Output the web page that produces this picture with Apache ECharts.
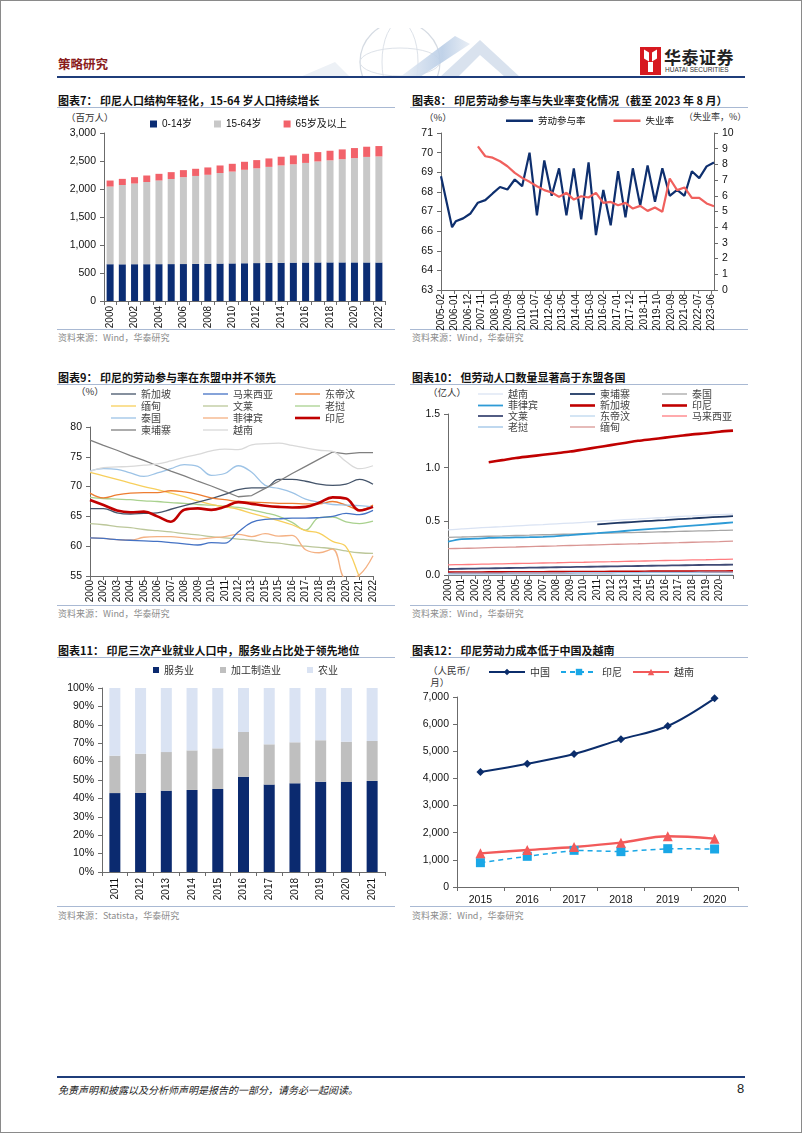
<!DOCTYPE html>
<html><head><meta charset="utf-8">
<script src="https://cdn.jsdelivr.net/npm/echarts@6/dist/echarts.min.js"></script>
<style>
html,body{margin:0;padding:0;background:#fff;}
#page{position:relative;width:802px;height:1133px;overflow:hidden;font-family:"Noto Sans CJK SC",sans-serif;background:#fff;}
.frame{position:absolute;left:0;top:0;width:800px;height:1131px;border:1px solid #8a8a8a;}
.layer{position:absolute;left:0;top:0;width:802px;height:1133px;}
.t{position:absolute;white-space:nowrap;line-height:14px;}
.title{font-size:11px;font-weight:bold;color:#111;}
.src{font-size:9px;color:#8c8c8c;}
.unit{font-size:9.5px;color:#333;}
.hl{position:absolute;height:1px;background:#a9b9d3;}
.bl{position:absolute;height:2px;background:#1f3d7a;}
</style></head>
<body><div id="page">
<div class="frame"></div>
<svg class="layer" width="802" height="1133" style="position:absolute;left:0;top:0">
  <defs><clipPath id="hc"><rect x="250" y="28" width="320" height="48"/></clipPath>
  <linearGradient id="gz" x1="0" y1="0" x2="1" y2="0"><stop offset="0" stop-color="#e9eef5"/><stop offset="0.6" stop-color="#b9cde6"/><stop offset="1" stop-color="#e6ecf4"/></linearGradient></defs>
  <g clip-path="url(#hc)">
    <circle cx="400" cy="62" r="40" fill="none" stroke="#d5dbe3" stroke-width="1.2"/>
    <ellipse cx="400" cy="62" rx="18" ry="40" fill="none" stroke="#dde2e9" stroke-width="1"/>
    <ellipse cx="400" cy="62" rx="40" ry="14" fill="none" stroke="#dde2e9" stroke-width="1"/>
    <polygon points="300,77 335,62 350,77" fill="#edf1f6"/>
    <polygon points="400,77 455,36 470,44 420,77" fill="url(#gz)" opacity="0.9"/>
    <polygon points="440,77 480,40 520,77 505,77 480,55 458,77" fill="#cfdbea" opacity="0.8"/>
  </g>
</svg>
<div class="t" style="left:58px;top:57px;font-size:12.5px;font-weight:bold;color:#8a1c1c;">策略研究</div>
<div style="position:absolute;left:640px;top:47px;width:21px;height:28px;background:#d71920;"></div>
<div style="position:absolute;left:644px;top:51px;width:5px;height:9px;background:#fff;transform:skewY(30deg);"></div>
<div style="position:absolute;left:652px;top:51px;width:5px;height:9px;background:#fff;transform:skewY(-30deg);"></div>
<div style="position:absolute;left:648px;top:62px;width:5px;height:10px;background:#fff;"></div>
<div class="t" style="left:664px;top:47px;font-size:17px;font-weight:bold;color:#222;line-height:20px;letter-spacing:0.5px;">华泰证券</div>
<div class="t" style="left:665px;top:65px;font-size:6.5px;color:#333;font-family:Arial,'Liberation Sans',sans-serif;line-height:9px;">HUATAI SECURITIES</div>
<div class="bl" style="left:57px;top:76px;width:688px;"></div>

<div class="t title" style="left:58px;top:93px;">图表7：&nbsp;印尼人口结构年轻化，15-64 岁人口持续增长</div>
<div class="t title" style="left:412px;top:93px;">图表8：&nbsp;印尼劳动参与率与失业率变化情况（截至 2023 年 8 月）</div>
<div class="hl" style="left:57px;top:107px;width:338px;"></div>
<div class="hl" style="left:410px;top:107px;width:338px;"></div>
<div class="t unit" style="left:66px;top:110px;">（百万人）</div>
<div class="t unit" style="left:424px;top:110px;">（%）</div>
<div class="t unit" style="left:684px;top:110px;font-size:9px;">（失业率，%）</div>
<div class="hl" style="left:57px;top:329px;width:338px;"></div>
<div class="hl" style="left:410px;top:329px;width:338px;"></div>
<div class="t src" style="left:58px;top:331px;">资料来源：Wind，华泰研究</div>
<div class="t src" style="left:412px;top:331px;">资料来源：Wind，华泰研究</div>

<div class="t title" style="left:58px;top:370px;">图表9：&nbsp;印尼的劳动参与率在东盟中并不领先</div>
<div class="t title" style="left:412px;top:370px;">图表10：&nbsp;但劳动人口数量显著高于东盟各国</div>
<div class="hl" style="left:57px;top:384px;width:338px;"></div>
<div class="hl" style="left:410px;top:384px;width:338px;"></div>
<div class="t unit" style="left:76px;top:384px;">（%）</div>
<div class="t unit" style="left:428px;top:385px;">（亿人）</div>
<div class="hl" style="left:57px;top:605px;width:338px;"></div>
<div class="hl" style="left:410px;top:605px;width:338px;"></div>
<div class="t src" style="left:58px;top:607px;">资料来源：Wind，华泰研究</div>
<div class="t src" style="left:412px;top:607px;">资料来源：Wind，华泰研究</div>

<div class="t title" style="left:58px;top:643px;">图表11：&nbsp;印尼三次产业就业人口中，服务业占比处于领先地位</div>
<div class="t title" style="left:412px;top:643px;">图表12：&nbsp;印尼劳动力成本低于中国及越南</div>
<div class="hl" style="left:57px;top:657px;width:338px;"></div>
<div class="hl" style="left:410px;top:657px;width:338px;"></div>
<div class="t unit" style="left:428px;top:663px;">（人民币/</div>
<div class="t unit" style="left:428px;top:675px;">&nbsp;月）</div>
<div class="hl" style="left:57px;top:906px;width:338px;"></div>
<div class="hl" style="left:410px;top:906px;width:338px;"></div>
<div class="t src" style="left:58px;top:909px;">资料来源：Statista，华泰研究</div>
<div class="t src" style="left:412px;top:909px;">资料来源：Wind，华泰研究</div>

<div class="bl" style="left:57px;top:1076px;width:688px;"></div>
<div class="t" style="left:58px;top:1083px;font-size:10px;font-style:italic;color:#222;">免责声明和披露以及分析师声明是报告的一部分，请务必一起阅读。</div>
<div class="t" style="left:737px;top:1082px;font-size:13px;color:#222;font-family:Arial,'Liberation Sans',sans-serif;">8</div>

<div id="c7" class="layer"></div>
<div id="c8" class="layer"></div>
<div id="c9" class="layer"></div>
<div id="c10" class="layer"></div>
<div id="c11" class="layer"></div>
<div id="c12" class="layer"></div>
</div>
<script>
// ---------- Chart 7 data ----------
const years7 = ['2000','2001','2002','2003','2004','2005','2006','2007','2008','2009','2010','2011','2012','2013','2014','2015','2016','2017','2018','2019','2020','2021','2022'];
const age0to14 = [657,655,657,657,658,659,660,662,665,668,671,674,677,680,683,685,687,688,689,689,689,688,687];
const age15to64 = [1387,1416,1441,1468,1494,1520,1552,1571,1589,1617,1640,1669,1692,1715,1738,1756,1779,1804,1823,1843,1863,1885,1895];
const age65plus = [107,110,113,116,119,122,125,128,131,135,139,143,147,151,155,159,163,167,171,175,179,182,185];

// ---------- Chart 8 data ----------
const lfprDates = ['2005-02','2005-11','2006-02','2006-08','2007-02','2007-08','2008-02','2008-08','2009-02','2009-08','2010-02','2010-08','2011-02','2011-08','2012-02','2012-08','2013-02','2013-08','2014-02','2014-08','2015-02','2015-08','2016-02','2016-08','2017-02','2017-08','2018-02','2018-08','2019-02','2019-08','2020-02','2020-08','2021-02','2021-08','2022-02','2022-08','2023-02','2023-08'];
const lfprValues = [68.8,66.2,66.5,66.65,66.9,67.45,67.58,67.92,68.25,68.12,68.63,68.29,70.0,66.8,69.6,67.8,69.2,66.8,69.2,66.6,69.5,65.8,68.1,66.3,69.05,66.7,69.2,67.3,69.35,67.5,69.2,67.8,68.1,67.8,69.05,68.7,69.3,69.5];
const unempDates = ['2007-08','2008-02','2008-08','2009-02','2009-08','2010-02','2010-08','2011-02','2011-08','2012-02','2012-08','2013-02','2013-08','2014-02','2014-08','2015-02','2015-08','2016-02','2016-08','2017-02','2017-08','2018-02','2018-08','2019-02','2019-08','2020-02','2020-08','2021-02','2021-08','2022-02','2022-08','2023-02','2023-08'];
const unempValues = [9.15,8.52,8.43,8.2,7.88,7.46,7.14,6.89,6.61,6.36,6.21,5.93,6.19,5.76,5.97,5.89,6.19,5.55,5.61,5.4,5.55,5.19,5.36,5.04,5.25,4.98,7.1,6.36,6.53,5.87,5.87,5.51,5.34];

// ---------- Chart 9 data ----------
const labels9 = ['2000','2002','2003','2004','2005','2006','2007','2008','2009','2010','2011','2012','2013','2015','2015','2016','2017','2018','2019','2020','2021','2022'];
const names9 = ['新加坡','马来西亚','东帝汶','缅甸','文莱','老挝','泰国','菲律宾','印尼','柬埔寨','越南'];
const colors9 = ['#44546a','#4472c4','#ed7d31','#f7cf5c','#bcc79a','#a9d18e','#9dc3e6','#f4b183','#c00000','#7f7f7f','#d9d9d9'];
const sg9 = [66.3,66.3,65.6,65.4,65.5,65.6,66.2,66.8,67.4,68.0,68.7,69.5,69.8,69.8,71.2,71.2,70.9,70.4,70.2,70.4,71.2,70.4];
const my9 = [61.4,61.3,61.1,61.0,60.9,60.8,60.6,60.4,60.2,60.6,60.5,62.4,64.0,64.5,64.6,64.7,64.7,64.8,65.0,65.5,65.3,66.0];
const tl9 = [68.9,68.1,68.6,68.9,69.0,69.0,69.3,69.1,68.7,68.1,67.8,67.5,67.4,67.3,67.2,67.2,67.1,67.1,67.5,66.9,66.1,66.9];
const mm9 = [72.4,71.8,71.2,70.6,70.0,69.5,68.9,68.3,67.6,67.0,66.6,66.2,65.5,64.9,64.3,63.6,62.6,62.2,60.8,59.9,54.8,50.0];
const bn9 = [63.8,63.6,63.3,63.1,62.8,62.6,62.4,62.1,61.9,61.6,61.4,61.2,61.0,60.7,60.5,60.2,60.0,59.8,59.6,59.2,58.9,58.8];
const la9 = [68.2,68.0,67.9,67.8,67.6,67.5,67.3,67.2,67.0,66.9,66.7,66.5,66.1,65.6,65.0,64.0,62.7,64.8,64.9,64.1,63.8,64.2];
const th9 = [72.6,73.0,72.9,72.3,71.7,72.3,73.0,73.7,73.4,71.9,72.2,73.5,72.4,70.2,69.7,69.0,67.9,67.4,67.0,66.9,66.8,66.6];
const ph9 = [61.4,61.3,61.1,61.0,61.5,61.6,61.6,61.4,61.2,61.4,61.6,62.0,61.6,62.1,61.7,61.8,59.4,58.9,59.5,54.5,55.2,58.4];
const id9 = [67.75,66.9,66.0,65.7,65.8,65.0,64.1,66.1,66.35,66.1,66.6,67.4,67.1,66.8,66.6,66.5,66.6,67.3,68.2,68.0,66.0,66.6];
const kh9 = [77.8,76.9,76.1,75.2,74.4,73.5,72.6,71.8,70.9,70.1,69.2,68.3,68.5,69.7,70.9,72.2,73.4,74.6,75.8,75.5,75.7,75.7];
const vn9 = [72.5,73.2,73.3,73.4,73.6,73.8,74.3,74.9,75.4,76.0,76.3,76.2,77.0,77.2,77.3,76.9,76.5,76.1,75.9,74.2,73.0,73.5];
const values9 = [sg9,my9,tl9,mm9,bn9,la9,th9,ph9,id9,kh9,vn9];

// ---------- Chart 10 data ----------
const years10 = ['2000','2001','2002','2003','2004','2005','2006','2007','2008','2009','2010','2011','2012','2013','2014','2015','2016','2017','2018','2019','2020','2021'];
const tickLabels10 = ['2000','2001','2002','2003','2004','2005','2006','2007','2008','2009','2010','2011','2012','2013','2014','2015','2016','2017','2018','2019','2020'];
const names10 = ['越南','柬埔寨','泰国','菲律宾','新加坡','印尼','文莱','东帝汶','马来西亚','老挝','缅甸'];
const colors10 = ['#dae3f3','#1f3864','#a6a6a6','#2e9bd6','#c00000','#c00000','#3f4a75','#bdd7ee','#ff7c80','#9dc3e6','#d99694'];
const vn10 = [0.42,0.43,0.437,0.444,0.45,0.457,0.464,0.47,0.477,0.484,0.49,0.50,0.507,0.515,0.522,0.53,0.537,0.545,0.55,0.557,0.563,0.568];
const kh10 = [null,null,null,null,null,null,null,null,null,null,null,0.472,0.481,0.489,0.497,0.505,0.512,0.52,0.527,0.535,0.542,0.548];
const th10 = [0.351,0.354,0.358,0.361,0.364,0.368,0.371,0.375,0.378,0.381,0.385,0.388,0.391,0.394,0.397,0.40,0.403,0.406,0.409,0.412,0.415,0.419];
const ph10 = [0.31,0.335,0.338,0.345,0.348,0.35,0.352,0.356,0.362,0.372,0.382,0.39,0.40,0.41,0.42,0.43,0.44,0.45,0.46,0.47,0.48,0.49];
const sg10 = [0.022,0.023,0.023,0.024,0.024,0.025,0.026,0.026,0.027,0.027,0.028,0.028,0.029,0.030,0.030,0.031,0.031,0.032,0.032,0.033,0.033,0.034];
const id10 = [null,null,null,1.05,1.07,1.09,1.105,1.12,1.135,1.15,1.17,1.19,1.21,1.23,1.25,1.265,1.28,1.295,1.31,1.32,1.335,1.345];
const bn10 = [0.056,0.058,0.06,0.062,0.064,0.066,0.068,0.07,0.072,0.074,0.076,0.078,0.08,0.082,0.084,0.086,0.088,0.09,0.092,0.094,0.095,0.096];
const tl10 = [0.004,0.004,0.004,0.004,0.004,0.005,0.005,0.005,0.005,0.005,0.005,0.005,0.005,0.006,0.006,0.006,0.006,0.006,0.006,0.006,0.006,0.006];
const my10 = [0.095,0.097,0.099,0.102,0.104,0.107,0.109,0.112,0.114,0.117,0.119,0.122,0.124,0.127,0.129,0.132,0.135,0.137,0.14,0.142,0.145,0.148];
const la10 = [0.016,0.017,0.017,0.018,0.018,0.019,0.019,0.02,0.02,0.021,0.021,0.022,0.022,0.023,0.023,0.024,0.024,0.025,0.025,0.026,0.026,0.027];
const mm10 = [0.245,0.248,0.251,0.255,0.258,0.261,0.265,0.268,0.271,0.275,0.278,0.281,0.285,0.288,0.291,0.295,0.298,0.301,0.305,0.308,0.311,0.315];
const values10 = [vn10,kh10,th10,ph10,sg10,id10,bn10,tl10,my10,la10,mm10];

// ---------- Chart 11 data ----------
const years11 = ['2011','2012','2013','2014','2015','2016','2017','2018','2019','2020','2021'];
const services11 = [42.9,43.0,44.2,44.6,45.1,51.8,47.5,48.2,49.1,48.9,49.5];
const manuf11 = [20.3,21.3,21.0,21.5,22.1,24.3,21.9,22.3,22.5,21.9,21.7];
const agri11 = [36.8,35.7,34.8,33.9,32.8,23.9,30.6,29.5,28.4,29.2,28.8];

// ---------- Chart 12 data ----------
const years12 = ['2015','2016','2017','2018','2019','2020'];
const china12 = [4237,4544,4900,5440,5932,6951];
const indo12 = [896,1130,1351,1302,1412,1400];
const viet12 = [1240,1363,1474,1633,1867,1781];

// ---------- shared styles ----------
const NUM = 'Arial, "Liberation Sans", "Noto Sans CJK SC", sans-serif';
const CJK = '"Noto Sans CJK SC", sans-serif';
const AX = '#6b6b6b';
const axLine = {show:true, lineStyle:{color:AX, width:1}};
const axTick = {show:true, length:4, lineStyle:{color:AX}};
const thousands = v => v.toLocaleString('en-US');
function mk(id){ return echarts.init(document.getElementById(id), null, {renderer:'canvas', width:802, height:1133}); }

// ---------- Chart 7 ----------
mk('c7').setOption({
  animation:false,
  grid:{left:104, top:133, width:281, height:168},
  legend:{left:145, top:114, icon:'rect', itemWidth:7, itemHeight:7, itemGap:22, selectedMode:false,
    textStyle:{fontSize:10, fontFamily:NUM, color:'#111'}},
  xAxis:{type:'category', data:years7, axisLine:axLine, axisTick:{show:true, length:4, interval:0, lineStyle:{color:AX}},
    axisLabel:{rotate:90, interval:1, fontSize:10, fontFamily:NUM, color:'#111', margin:5}},
  yAxis:{type:'value', min:0, max:3000, interval:500, splitLine:{show:false}, axisLine:axLine, axisTick:axTick,
    axisLabel:{fontSize:10.5, fontFamily:NUM, color:'#111', formatter:thousands}},
  series:[
    {name:'0-14岁', type:'bar', stack:'p', barWidth:7, data:age0to14, itemStyle:{color:'#0b2d74'}},
    {name:'15-64岁', type:'bar', stack:'p', barWidth:7, data:age15to64, itemStyle:{color:'#c8c8c8'}},
    {name:'65岁及以上', type:'bar', stack:'p', barWidth:7, data:age65plus, itemStyle:{color:'#f2626a'}}
  ]
});

// ---------- Chart 8 ----------
const months8 = [];
for (let y = 2005; y <= 2023; y++) for (let m = 1; m <= 12; m++) {
  const s = y + '-' + String(m).padStart(2,'0');
  if (s >= '2005-02' && s <= '2023-08') months8.push(s);
}
mk('c8').setOption({
  animation:false,
  grid:{left:441, top:133, width:273, height:157},
  legend:{left:501, top:111, icon:'rect', itemWidth:27, itemHeight:2.5, itemGap:28, selectedMode:false,
    textStyle:{fontSize:9.5, fontFamily:CJK, color:'#111'}},
  xAxis:{type:'category', data:months8, boundaryGap:false, axisLine:axLine,
    axisTick:{show:true, length:4, interval:10, lineStyle:{color:AX}},
    axisLabel:{rotate:90, interval:10, fontSize:10, fontFamily:NUM, color:'#111', margin:4}},
  yAxis:[
    {type:'value', min:63, max:71, interval:1, splitLine:{show:false}, axisLine:axLine, axisTick:axTick,
      axisLabel:{fontSize:10.5, fontFamily:NUM, color:'#111'}},
    {type:'value', min:0, max:10, interval:1, position:'right', splitLine:{show:false}, axisLine:axLine, axisTick:axTick,
      axisLabel:{fontSize:10.5, fontFamily:NUM, color:'#111'}}
  ],
  series:[
    {name:'劳动参与率', type:'line', yAxisIndex:0, symbol:'none', data:lfprDates.map((d,i)=>[d, lfprValues[i]]),
      lineStyle:{color:'#0e2f6e', width:2.2}, itemStyle:{color:'#0e2f6e'}},
    {name:'失业率', type:'line', yAxisIndex:1, symbol:'none', data:unempDates.map((d,i)=>[d, unempValues[i]]),
      lineStyle:{color:'#f0605d', width:2.2}, itemStyle:{color:'#f0605d'}}
  ]
});

// ---------- cell legends helper ----------
function cellLegends(names, cols, rows, thick){
  return names.map((n,i)=>({
    data:[n], left:cols[i%3], top:rows[Math.floor(i/3)]-7, icon:'rect', itemWidth:25,
    itemHeight: thick(n), selectedMode:false,
    textStyle:{fontSize:10, fontFamily:CJK, color:'#444'}
  }));
}

// ---------- Chart 9 ----------
const legCols9 = [106, 198, 290], legRows9 = [391, 403, 415, 427];
const order9 = [4,5,3,7,1,0,2,6,9,10,8];
mk('c9').setOption({
  animation:false,
  grid:{left:90, top:427, width:283, height:149},
  legend:cellLegends(names9, legCols9, legRows9, n => n==='印尼' ? 2.6 : 1.3),
  xAxis:{type:'category', data:labels9, boundaryGap:false, axisLine:axLine,
    axisTick:{show:true, length:4, interval:0, lineStyle:{color:AX}},
    axisLabel:{rotate:90, interval:0, fontSize:10, fontFamily:NUM, color:'#111', margin:4}},
  yAxis:{type:'value', min:55, max:80, interval:5, splitLine:{show:false}, axisLine:axLine, axisTick:axTick,
    axisLabel:{fontSize:10.5, fontFamily:NUM, color:'#111'}},
  series:names9.map((n,i)=>({
    name:n, type:'line', symbol:'none', data:values9[i], z: 2 + order9.indexOf(i),
    smooth: n === '柬埔寨' ? false : 0.4, clip:true,
    lineStyle:{color:colors9[i], width: n === '印尼' ? 2.6 : 1.3}, itemStyle:{color:colors9[i]}
  }))
});

// ---------- Chart 10 ----------
const legCols10 = [473, 565, 657], legRows10 = [391, 402.5, 413, 424];
const w10 = n => (n==='印尼'||n==='新加坡') ? 2.6 : ((n==='菲律宾'||n==='柬埔寨'||n==='文莱') ? 1.8 : 1.3);
mk('c10').setOption({
  animation:false,
  grid:{left:448, top:414, width:285, height:161},
  legend:cellLegends(names10, legCols10, legRows10, w10),
  xAxis:{type:'category', data:years10, boundaryGap:false, axisLine:axLine,
    axisTick:{show:true, length:4, interval:0, lineStyle:{color:AX}},
    axisLabel:{rotate:90, interval:0, fontSize:10, fontFamily:NUM, color:'#111', margin:4,
      formatter:(v,idx)=> tickLabels10[idx] || ''}},
  yAxis:{type:'value', min:0, max:1.5, interval:0.5, splitLine:{show:false}, axisLine:axLine, axisTick:axTick,
    axisLabel:{fontSize:10.5, fontFamily:NUM, color:'#111', formatter:v=>v.toFixed(1)}},
  series:names10.map((n,i)=>({
    name:n, type:'line', symbol:'none', data:values10[i], smooth:0.3, z: n==='印尼'?10:3,
    lineStyle:{color:colors10[i], width:w10(n)}, itemStyle:{color:colors10[i]}
  }))
});

// ---------- Chart 11 ----------
mk('c11').setOption({
  animation:false,
  grid:{left:102, top:688, width:283, height:184},
  legend:{left:148, top:660, icon:'rect', itemWidth:6, itemHeight:6, itemGap:26, selectedMode:false,
    textStyle:{fontSize:10, fontFamily:CJK, color:'#333'}},
  xAxis:{type:'category', data:years11, axisLine:axLine, axisTick:{show:true, length:4, lineStyle:{color:AX}},
    axisLabel:{rotate:90, interval:0, fontSize:10, fontFamily:NUM, color:'#111', margin:6}},
  yAxis:{type:'value', min:0, max:100, interval:10, splitLine:{show:false}, axisLine:axLine, axisTick:axTick,
    axisLabel:{fontSize:10.5, fontFamily:NUM, color:'#111', formatter:'{value}%'}},
  series:[
    {name:'服务业', type:'bar', stack:'s', barWidth:11, data:services11, itemStyle:{color:'#0b2a6f'}},
    {name:'加工制造业', type:'bar', stack:'s', barWidth:11, data:manuf11, itemStyle:{color:'#bfbfbf'}},
    {name:'农业', type:'bar', stack:'s', barWidth:11, data:agri11, itemStyle:{color:'#dae3f3'}}
  ]
});

// ---------- Chart 12 ----------
mk('c12').setOption({
  animation:false,
  grid:{left:457, top:697, width:281, height:190},
  legend:{left:483, top:662, itemWidth:36, itemHeight:8, itemGap:10, selectedMode:false,
    textStyle:{fontSize:10, fontFamily:CJK, color:'#333'}},
  xAxis:{type:'category', data:years12, axisLine:axLine, axisTick:{show:true, length:4, lineStyle:{color:AX}},
    axisLabel:{fontSize:10.5, fontFamily:NUM, color:'#111', margin:8}},
  yAxis:{type:'value', min:0, max:7000, interval:1000, splitLine:{show:false}, axisLine:axLine, axisTick:axTick,
    axisLabel:{fontSize:10.5, fontFamily:NUM, color:'#111', formatter:thousands}},
  series:[
    {name:'中国', type:'line', data:china12, smooth:0.35, symbol:'diamond', symbolSize:8,
      lineStyle:{color:'#0b2d6b', width:2}, itemStyle:{color:'#0b2d6b'}},
    {name:'印尼', type:'line', data:indo12, smooth:false, symbol:'rect', symbolSize:9,
      lineStyle:{color:'#1aa7e6', width:1.5, type:[5,4]}, itemStyle:{color:'#1aa7e6'}},
    {name:'越南', type:'line', data:viet12, smooth:0.35, symbol:'triangle', symbolSize:10,
      lineStyle:{color:'#f25a5a', width:2.4}, itemStyle:{color:'#f25a5a'}}
  ]
});
</script>
</body></html>
